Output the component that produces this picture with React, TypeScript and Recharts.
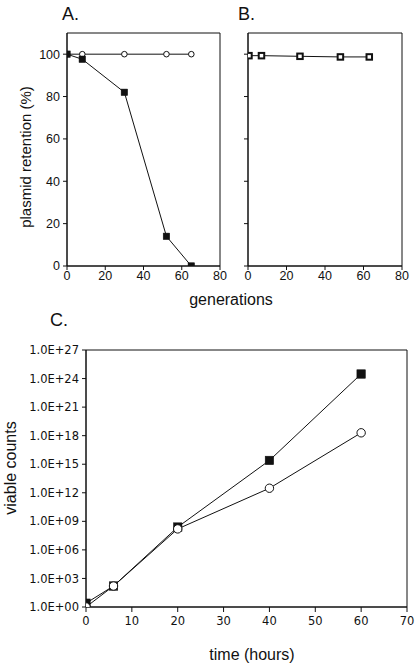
import React from 'react';
import { LineChart, Line, XAxis, YAxis, ReferenceArea } from 'recharts';

// Panel A: plasmid retention (%) vs generations
const genA_open = [0, 8, 30, 52, 65];
const retA_open = [100, 100, 100, 100, 100];
const genA_filled = [0, 8, 30, 52, 65];
const retA_filled = [100, 97.6, 82, 14, 0];

// Panel B
const genB = [0.5, 7, 27, 48, 63];
const retB = [99.3, 99.3, 99, 98.7, 98.7];

// Panel C: viable counts vs time (hours)
const timeC = [0, 6, 20, 40, 60];
const countsFilled = [2.5, 160, 2.5e8, 2.5e15, 3e24];
const countsOpen = [1, 160, 1.6e8, 3e12, 2e18];

const genTicks = [0, 20, 40, 60, 80];
const retTicks = [0, 20, 40, 60, 80, 100];
const timeTicks = [0, 10, 20, 30, 40, 50, 60, 70];
const countTicks = [1, 1e3, 1e6, 1e9, 1e12, 1e15, 1e18, 1e21, 1e24, 1e27];

const zip = (xs: number[], ys: number[]) => xs.map((x, i) => ({ x, y: ys[i] }));

const dataAOpen = zip(genA_open, retA_open);
const dataAFilled = zip(genA_filled, retA_filled);
const dataB = zip(genB, retB);
const dataCFilled = zip(timeC, countsFilled);
const dataCOpen = zip(timeC, countsOpen);

const INK = '#111';
const sans = '"Liberation Sans", Arial, sans-serif';
const verd = '"DejaVu Sans", Verdana, sans-serif';

const square = (size: number, fill: string, sw: number) => (props: any) => {
  const { cx, cy, index } = props;
  if (cx == null || cy == null) return <g key={`s${index}`} />;
  return (
    <rect key={`s${index}`} x={cx - size / 2} y={cy - size / 2} width={size} height={size}
      fill={fill} stroke={INK} strokeWidth={sw} />
  );
};
const circle = (r: number, sw: number) => (props: any) => {
  const { cx, cy, index } = props;
  if (cx == null || cy == null) return <g key={`c${index}`} />;
  return <circle key={`c${index}`} cx={cx} cy={cy} r={r} fill="#fff" stroke={INK} strokeWidth={sw} />;
};

const expFmt = (v: number) => {
  const e = Math.round(Math.log10(v));
  return `1.0E+${String(e).padStart(2, '0')}`;
};

const tickA = { fontFamily: sans, fontSize: 12.5, fill: INK };
const tickC = { fontFamily: verd, fontSize: 11.5, fill: INK };

export default function App() {
  return (
    <div style={{ position: 'absolute', left: 0, top: 0, width: 417, height: 667, background: '#fff' }}>
      {/* Panel A */}
      <div style={{ position: 'absolute', left: 0, top: 0 }}>
        <LineChart width={230} height={300} margin={{ top: 33, right: 10, bottom: 4, left: 0 }}>
          <XAxis type="number" dataKey="x" domain={[0, 80]} ticks={genTicks} height={30}
            tick={tickA} tickSize={4} tickMargin={1} stroke={INK} allowDataOverflow />
          <YAxis type="number" dataKey="y" domain={[0, 110]} ticks={retTicks} width={67}
            tick={tickA} tickSize={4} tickMargin={3} stroke={INK} allowDataOverflow />
          <ReferenceArea x1={0} x2={80} y1={0} y2={110} fill="none" stroke={INK} strokeWidth={1} />
          <Line data={dataAOpen} dataKey="y" type="linear" stroke={INK} strokeWidth={1}
            dot={circle(2.8, 1)} isAnimationActive={false} />
          <Line data={dataAFilled} dataKey="y" type="linear" stroke={INK} strokeWidth={1}
            dot={square(6.5, INK, 0.5)} isAnimationActive={false} />
        </LineChart>
      </div>

      {/* Panel B */}
      <div style={{ position: 'absolute', left: 230, top: 0 }}>
        <LineChart width={182} height={300} margin={{ top: 33, right: 10, bottom: 4, left: 0 }}>
          <XAxis type="number" dataKey="x" domain={[0, 80]} ticks={genTicks} height={30}
            tick={tickA} tickSize={4} tickMargin={1} stroke={INK} allowDataOverflow />
          <YAxis type="number" dataKey="y" domain={[0, 110]} ticks={retTicks} width={18}
            tickFormatter={() => ''} tickSize={4} stroke={INK} allowDataOverflow />
          <ReferenceArea x1={0} x2={80} y1={0} y2={110} fill="none" stroke={INK} strokeWidth={1} />
          <Line data={dataB} dataKey="y" type="linear" stroke={INK} strokeWidth={1}
            dot={square(5.5, '#fff', 2)} isAnimationActive={false} />
        </LineChart>
      </div>

      {/* Panel C */}
      <div style={{ position: 'absolute', left: 0, top: 320 }}>
        <LineChart width={417} height={347} margin={{ top: 30, right: 10, bottom: 30, left: 0 }}>
          <XAxis type="number" dataKey="x" domain={[0, 70]} ticks={timeTicks} height={30}
            tick={tickC} tickSize={5} tickMargin={5} stroke={INK} allowDataOverflow />
          <YAxis type="number" dataKey="y" scale="log" domain={[1, 1e27]} ticks={countTicks} width={86}
            tick={tickC} tickFormatter={expFmt} tickSize={4} tickMargin={3} stroke={INK} allowDataOverflow />
          <ReferenceArea x1={0} x2={70} y1={1} y2={1e27} fill="none" stroke={INK} strokeWidth={1} />
          <Line data={dataCFilled} dataKey="y" type="linear" stroke={INK} strokeWidth={1}
            dot={square(8.5, INK, 0.5)} isAnimationActive={false} />
          <Line data={dataCOpen} dataKey="y" type="linear" stroke={INK} strokeWidth={1}
            dot={circle(4.2, 1)} isAnimationActive={false} />
        </LineChart>
      </div>

      {/* Text overlay */}
      <svg width={417} height={667} style={{ position: 'absolute', left: 0, top: 0, pointerEvents: 'none' }}>
        <text x={62} y={20} fontFamily={sans} fontSize={18} fill={INK}>A.</text>
        <text x={238} y={20} fontFamily={sans} fontSize={18} fill={INK}>B.</text>
        <text x={50} y={326} fontFamily={sans} fontSize={18} fill={INK}>C.</text>
        <text x={231} y={305} textAnchor="middle" fontFamily={sans} fontSize={16} fill={INK}>generations</text>
        <text x={252} y={660} textAnchor="middle" fontFamily={sans} fontSize={16} fill={INK}>time (hours)</text>
        <text transform="translate(31,157) rotate(-90)" textAnchor="middle" fontFamily={sans} fontSize={15} fill={INK}>plasmid retention (%)</text>
        <text transform="translate(16,468) rotate(-90)" textAnchor="middle" fontFamily={sans} fontSize={16} fill={INK}>viable counts</text>
      </svg>
    </div>
  );
}
